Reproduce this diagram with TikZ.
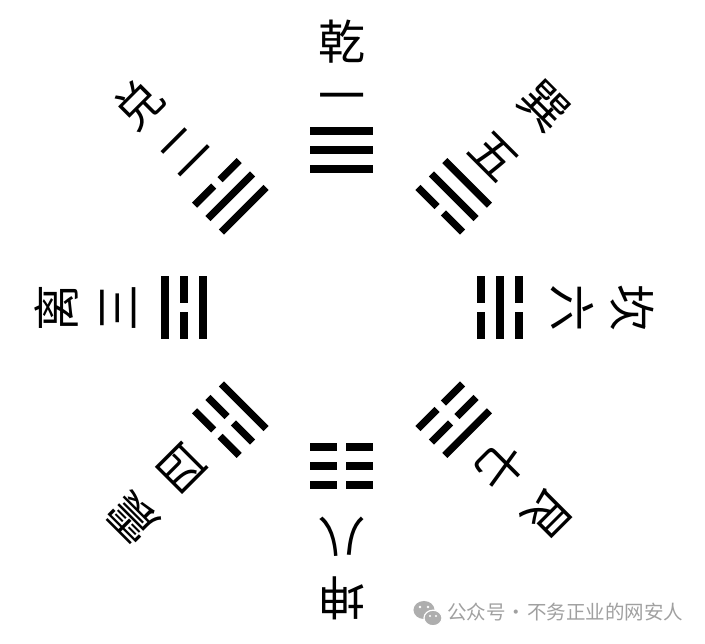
\documentclass[tikz,border=0pt]{standalone}
\usepackage{fontspec}
\newfontfamily\cjk{Noto Sans CJK SC}
\definecolor{wmgray}{RGB}{160,160,160}
\newcommand\yaoline[2]{%
  \ifnum#1=1
    \fill (-31.5,#2-3.6) rectangle (31.5,#2+3.6);
  \else
    \fill (-31.5,#2-3.6) rectangle (-4.5,#2+3.6);
    \fill (4.5,#2-3.6) rectangle (31.5,#2+3.6);
  \fi}
\begin{document}
\begin{tikzpicture}[x=1pt,y=1pt,
  lbl/.style={inner sep=0pt, font=\cjk\fontsize{47}{47}\selectfont},
  wm/.style={inner sep=0pt, text=wmgray, font=\cjk\fontsize{19.5}{19.5}\selectfont}]
\useasboundingbox[fill=white] (-342,-336) rectangle (363,308);
% trigrams: angle / bottom / middle / top  (1 = yang, 0 = yin)
\foreach \a/\p/\q/\r in {90/1/1/1, 45/0/1/1, 0/0/1/0,
  -45/0/0/1, -90/0/0/0, -135/1/0/0, 180/1/0/1, 135/1/1/0}{
  \begin{scope}[shift={(\a:158)}, rotate=\a-90]
    \yaoline{\p}{-19}
    \yaoline{\q}{0}
    \yaoline{\r}{19}
  \end{scope}
}
% labels
\node[lbl, rotate=0]    (n1) at (90:205)  {一};
\node[lbl, rotate=0]    (q1) at (90:266)  {乾};
\node[lbl, rotate=-45]  (n5) at (45:215)  {五};
\node[lbl, rotate=-45]  (q5) at (45:286)  {巽};
\node[lbl, rotate=-90]  (n6) at (0:230)   {六};
\node[lbl, rotate=-90]  (q6) at (0:290)   {坎};
\node[lbl, rotate=-135] (n7) at (-45:224) {七};
\node[lbl, rotate=-135] (q7) at (-45:291) {艮};
\node[lbl, rotate=180]  (n8) at (-90:229) {八};
\node[lbl, rotate=180]  (q8) at (-90:290) {坤};
\node[lbl, rotate=135]  (n4) at (-135:226) {四};
\node[lbl, rotate=135]  (q4) at (-135:296) {震};
\node[lbl, rotate=90]   (n3) at (180:224) {三};
\node[lbl, rotate=90]   (q3) at (180:286) {离};
\node[lbl, rotate=45]   (n2) at (135:222) {二};
\node[lbl, rotate=45]   (q2) at (135:288) {兑};
% watermark
\fill[wmgray!85] (82,-302) ellipse (10.5 and 9);
\fill[white] (78,-299) circle (1.3) (86,-299) circle (1.3);
\filldraw[wmgray!85, draw=white, line width=1.2pt] (91,-310) ellipse (9 and 7.8);
\fill[white] (88,-308) circle (1.1) (94,-308) circle (1.1);
\node[wm, anchor=west] (wmtext) at (105,-304) {公众号\hspace{1pt}·\hspace{1pt}不务正业的网安人};
\end{tikzpicture}
\end{document}
